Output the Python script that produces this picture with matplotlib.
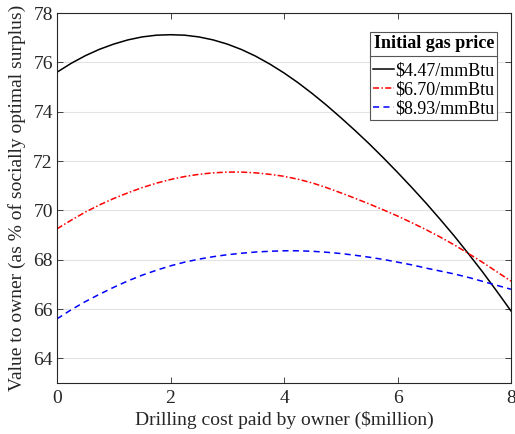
import matplotlib
matplotlib.use("Agg")
import matplotlib.pyplot as plt
from matplotlib.lines import Line2D

plt.rcParams["font.family"] = ["Liberation Serif", "DejaVu Serif"]

# drilling cost paid by owner ($million)
cost = [0.0, 0.25, 0.5, 0.75, 1.0, 1.25, 1.5, 1.75, 2.0, 2.25, 2.5, 2.75,
        3.0, 3.25, 3.5, 3.75, 4.0, 4.25, 4.5, 4.75, 5.0, 5.25, 5.5, 5.75,
        6.0, 6.25, 6.5, 6.75, 7.0, 7.25, 7.5, 7.75, 8.0]

# value to owner (% of socially optimal surplus), one list per gas price
value_447 = [75.60, 75.96, 76.27, 76.53, 76.74, 76.91, 77.03, 77.10, 77.12,
             77.10, 77.03, 76.91, 76.74, 76.52, 76.25, 75.93, 75.57, 75.17,
             74.73, 74.26, 73.76, 73.24, 72.70, 72.13, 71.54, 70.93, 70.30,
             69.64, 68.96, 68.24, 67.50, 66.72, 65.92]
value_670 = [69.25, 69.60, 69.93, 70.22, 70.48, 70.71, 70.92, 71.10, 71.25,
             71.37, 71.46, 71.52, 71.55, 71.55, 71.52, 71.46, 71.38, 71.26,
             71.11, 70.92, 70.71, 70.49, 70.26, 70.02, 69.77, 69.50, 69.22,
             68.92, 68.60, 68.25, 67.89, 67.51, 67.13]
value_893 = [65.60, 65.97, 66.30, 66.60, 66.88, 67.14, 67.37, 67.57, 67.75,
             67.90, 68.02, 68.12, 68.20, 68.26, 68.31, 68.34, 68.36, 68.36,
             68.34, 68.30, 68.25, 68.18, 68.10, 68.01, 67.90, 67.79, 67.66,
             67.54, 67.42, 67.28, 67.12, 66.96, 66.80]

labels = ["\\$4.47/mmBtu", "\\$6.70/mmBtu", "\\$8.93/mmBtu"]
x_ticks = [0, 2, 4, 6, 8]
y_ticks = [64, 66, 68, 70, 72, 74, 76, 78]

TXT = "#262626"

fig = plt.figure(figsize=(5.15, 4.34), dpi=100)
ax = fig.add_axes([57 / 515, 1 - 383 / 434, 454 / 515, 370 / 434])

ax.plot(cost, value_447, color="k", lw=1.1, label=labels[0])
ax.plot(cost, value_670, color="r", lw=1.1, dashes=(4, 1.5, 1, 1.5),
        label=labels[1])
ax.plot(cost, value_893, color="b", lw=1.1, dashes=(4, 2.8), label=labels[2])

ax.set_xlim(0, 8)
ax.set_ylim(63, 78)
ax.set_xticks(x_ticks)
ax.set_yticks(y_ticks)
ax.yaxis.grid(True, color="#e3e3e3", lw=0.8)
ax.set_axisbelow(True)
ax.tick_params(direction="in", top=True, right=True, length=4, width=0.6,
               labelsize=14, colors=TXT, pad=5)
ax.tick_params(axis="y", pad=3)
for s in ax.spines.values():
    s.set_color(TXT)
    s.set_linewidth(0.8)

ax.set_xlabel("Drilling cost paid by owner (\\$million)", fontsize=14,
              color=TXT, labelpad=3)
ax.set_ylabel("Value to owner (as % of socially optimal surplus)",
              fontsize=14, color=TXT, labelpad=5)

leg = ax.legend(loc="upper right", bbox_to_anchor=(0.97, 0.949),
                title="Initial gas price", fontsize=13,
                title_fontproperties={"weight": "bold", "size": 13},
                handlelength=1.15, handletextpad=0.1, borderpad=0.15,
                labelspacing=0.1, borderaxespad=0, fancybox=False,
                framealpha=1, edgecolor="#555555")
leg.get_frame().set_linewidth(0.8)
leg._legend_box.sep = 8

# separator under the legend title
fig.canvas.draw()
r = fig.canvas.get_renderer()
fb = leg.get_frame().get_window_extent(r)
tb = leg.get_title().get_window_extent(r)
inv = fig.transFigure.inverted()
(x0, ys), (x1, _) = inv.transform([(fb.x0, tb.y0 - 4), (fb.x1, tb.y0 - 4)])
fig.add_artist(Line2D([x0, x1], [ys, ys], color="#555555", lw=0.8))

fig.savefig("out.png", dpi=100)
